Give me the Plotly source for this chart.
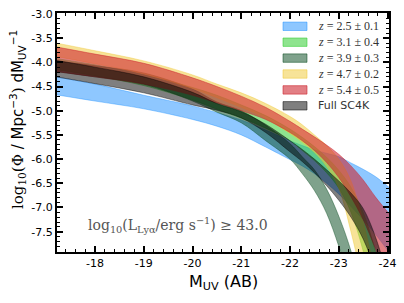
import plotly.graph_objects as go

# Absolute UV magnitude grid (M_UV, AB)
M_UV = [-17.2, -18, -19, -20, -20.5, -21, -21.5, -22, -22.25, -22.5, -22.75, -23, -23.25, -23.5, -23.75, -24.05]

# log10 Phi bands (upper / lower)
z25_hi = [-4.30, -4.45, -4.68, -4.90, -5.04, -5.19, -5.40, -5.62, -5.72, -5.81, -5.88, -5.95, -6.08, -6.21, -6.36, -6.60]
z25_lo = [-4.67, -4.80, -4.96, -5.18, -5.32, -5.50, -5.75, -6.01, -6.14, -6.30, -6.50, -6.72, -6.98, -7.25, -7.55, -7.95]

z31_hi = [-3.92, -4.05, -4.25, -4.52, -4.68, -4.88, -5.10, -5.38, -5.55, -5.74, -5.96, -6.23, -6.58, -7.10, -7.90, -9.20]
z31_lo = [-4.15, -4.28, -4.48, -4.78, -4.97, -5.15, -5.36, -5.62, -5.82, -6.03, -6.28, -6.60, -7.10, -7.90, -9.00, -10.5]

z39_hi = [-3.97, -4.07, -4.22, -4.55, -4.82, -5.00, -5.30, -5.68, -5.95, -6.22, -6.62, -7.18, -7.90, -8.90, -10.0, -11.5]
z39_lo = [-4.19, -4.30, -4.45, -4.80, -5.03, -5.25, -5.62, -6.00, -6.30, -6.65, -7.12, -7.80, -8.60, -9.60, -11.0, -13.0]

z47_hi = [-3.60, -3.76, -3.97, -4.26, -4.45, -4.63, -4.85, -5.12, -5.29, -5.50, -5.72, -6.00, -6.45, -7.30, -8.40, -10.0]
z47_lo = [-3.88, -4.03, -4.24, -4.54, -4.73, -4.93, -5.16, -5.47, -5.65, -5.86, -6.15, -6.60, -7.50, -8.60, -9.80, -11.0]

z54_hi = [-3.68, -3.83, -4.02, -4.32, -4.50, -4.70, -4.93, -5.22, -5.38, -5.54, -5.71, -5.90, -6.14, -6.43, -6.78, -7.15]
z54_lo = [-4.19, -4.30, -4.45, -4.68, -4.84, -5.00, -5.18, -5.45, -5.62, -5.82, -6.07, -6.38, -6.78, -7.25, -7.85, -8.60]

sc4k_hi = [-3.96, -4.10, -4.30, -4.62, -4.85, -5.02, -5.28, -5.62, -5.80, -6.00, -6.22, -6.45, -6.70, -7.02, -7.60, -8.60]
sc4k_lo = [-4.30, -4.44, -4.63, -4.88, -4.99, -5.15, -5.45, -5.85, -6.05, -6.28, -6.55, -6.85, -7.20, -7.65, -8.30, -9.30]

labels = ["<i>z</i> = 2.5 ± 0.1", "<i>z</i> = 3.1 ± 0.4", "<i>z</i> = 3.9 ± 0.3",
          "<i>z</i> = 4.7 ± 0.2", "<i>z</i> = 5.4 ± 0.5", "Full SC4K"]
colors = ["rgba(30,144,255,0.5)", "rgba(50,205,50,0.55)", "rgba(0,70,25,0.5)",
          "rgba(240,200,50,0.5)", "rgba(205,35,45,0.58)", "rgba(0,0,0,0.5)"]
bands = [(z25_lo, z25_hi), (z31_lo, z31_hi), (z39_lo, z39_hi),
         (z47_lo, z47_hi), (z54_lo, z54_hi), (sc4k_lo, sc4k_hi)]

y_ticks = [-3.0, -3.5, -4.0, -4.5, -5.0, -5.5, -6.0, -6.5, -7.0, -7.5]
y_ticktext = ["-3.0", "-3.5", "-4.0", "-4.5", "-5.0", "-5.5", "-6.0", "-6.5", "-7.0", "-7.5"]
x_ticks = [-18, -19, -20, -21, -22, -23, -24]
x_ticktext = ["-18", "-19", "-20", "-21", "-22", "-23", "-24"]

serif = "DejaVu Serif"
W, H = 404, 303
ML, MR, MT, MB = 57, 15, 13, 51
PW, PH = W - ML - MR, H - MT - MB


def px2paper_x(px):
    return (px - ML) / PW


def px2paper_y(py):
    return 1 - (py - MT) / PH


fig = go.Figure()
for name, col, (lo, hi) in zip(labels, colors, bands):
    fig.add_trace(go.Scatter(x=M_UV, y=lo, mode="lines",
                             line=dict(color=col, width=0.8, shape="spline"),
                             showlegend=False, hoverinfo="skip"))
    fig.add_trace(go.Scatter(x=M_UV, y=hi, mode="lines", fill="tonexty",
                             fillcolor=col,
                             line=dict(color=col, width=0.8, shape="spline"),
                             name=name, showlegend=False, hoverinfo="skip"))

axis_common = dict(showline=True, linecolor="black", linewidth=2, mirror="allticks",
                   ticks="inside", ticklen=6, tickwidth=1.5, tickcolor="black",
                   showgrid=False, zeroline=False, automargin=False,
                   tickfont=dict(family="DejaVu Sans", size=11, color="black"))

fig.update_xaxes(range=[-17.22, -24.03], tickvals=x_ticks, ticktext=x_ticktext,
                 minor=dict(ticks="inside", dtick=0.2, ticklen=3, tickwidth=1, tickcolor="black"),
                 **axis_common)
fig.update_yaxes(range=[-7.92, -2.98], tickvals=y_ticks, ticktext=y_ticktext,
                 minor=dict(ticks="inside", dtick=0.1, ticklen=3, tickwidth=1, tickcolor="black"),
                 **axis_common)

# axis titles
fig.add_annotation(x=0.5, y=px2paper_y(282), xref="paper", yref="paper", showarrow=False,
                   xanchor="center", yanchor="middle",
                   text="M<sub>UV</sub> (AB)", font=dict(family="DejaVu Sans", size=16, color="black"))
fig.add_annotation(x=px2paper_x(17), y=px2paper_y(120), xref="paper", yref="paper", showarrow=False,
                   xanchor="center", yanchor="middle", textangle=-90,
                   text='<span style="font-family:DejaVu Serif">log<sub>10</sub>(Φ</span> / Mpc<sup>−3</sup><span style="font-family:DejaVu Serif">)</span> dM<sub>UV</sub><sup>−1</sup>',
                   font=dict(family="DejaVu Sans", size=15, color="black"))

# luminosity cut label
fig.add_annotation(x=px2paper_x(178), y=px2paper_y(225), xref="paper", yref="paper", showarrow=False,
                   xanchor="center", yanchor="middle",
                   text="log<sub>10</sub>(L<sub>Lyα</sub>/erg s<sup>−1</sup>) ≥ 43.0",
                   font=dict(family=serif, size=14, color="#555555"))

# legend drawn by hand: patch + text
legend_y0 = 26.3
legend_dy = 15.9
for i, (name, col) in enumerate(zip(labels, colors)):
    cy = legend_y0 + i * legend_dy
    fig.add_shape(type="rect", xref="paper", yref="paper",
                  x0=px2paper_x(283), x1=px2paper_x(307),
                  y0=px2paper_y(cy - 4.2), y1=px2paper_y(cy + 4.2),
                  fillcolor=col, line=dict(color=col, width=1))
    if name.startswith("<i>"):
        fnt = dict(family="Liberation Serif", size=12, color="#333333")
    else:
        fnt = dict(family="DejaVu Sans", size=11, color="#333333")
    fig.add_annotation(x=px2paper_x(316), y=px2paper_y(cy), xref="paper", yref="paper",
                       showarrow=False, xanchor="left", yanchor="middle",
                       text=name, font=fnt)

fig.update_layout(width=W, height=H,
                  margin=dict(l=ML, r=MR, t=MT, b=MB),
                  paper_bgcolor="white", plot_bgcolor="white",
                  showlegend=False, hovermode=False)

fig.write_html("out.html", config={"displayModeBar": False},
               post_script="document.body.style.margin='0';")
